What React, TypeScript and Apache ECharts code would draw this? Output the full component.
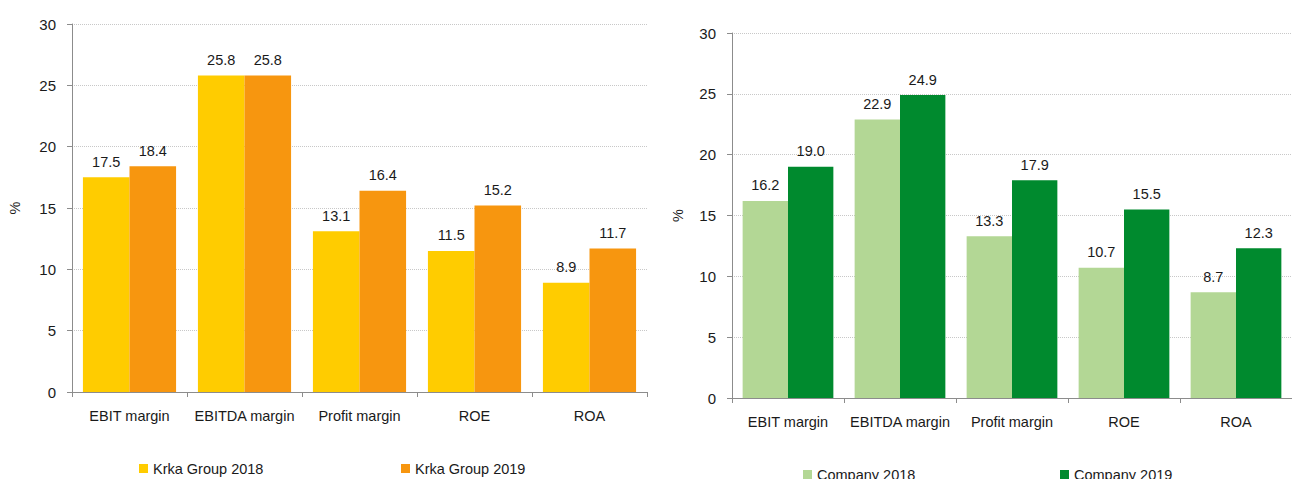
import React, { useEffect, useRef } from "react";
import * as echarts from "echarts";

const categories = ["EBIT margin", "EBITDA margin", "Profit margin", "ROE", "ROA"];
const krka2018 = [17.5, 25.8, 13.1, 11.5, 8.9];
const krka2019 = [18.4, 25.8, 16.4, 15.2, 11.7];
const company2018 = [16.2, 22.9, 13.3, 10.7, 8.7];
const company2019 = [19.0, 24.9, 17.9, 15.5, 12.3];
const yTicks = { min: 0, max: 30, interval: 5 };

const FONT = "'Liberation Sans', Arial, sans-serif";
const TXT = "#1a1a1a";
const FS = 14.5;

export default function App() {
  const ref = useRef<HTMLDivElement>(null);
  useEffect(() => {
    if (!ref.current) return;
    const chart = echarts.init(ref.current, null, { renderer: "svg" });
    const xAxisBase = (gridIndex: number) => ({
      type: "category",
      gridIndex,
      data: categories,
      axisLine: { lineStyle: { color: "#8c8c8c", width: 1 } },
      axisTick: { show: true, length: 5, lineStyle: { color: "#8c8c8c" } },
      axisLabel: { color: TXT, fontFamily: FONT, fontSize: FS, margin: 16, interval: 0 },
    });
    const yAxisBase = (gridIndex: number, nameGap: number) => ({
      type: "value",
      gridIndex,
      ...yTicks,
      name: "%",
      nameLocation: "middle",
      nameRotate: 90,
      nameGap,
      nameTextStyle: { color: TXT, fontFamily: FONT, fontSize: FS },
      axisLine: { show: true, lineStyle: { color: "#8c8c8c", width: 1 } },
      axisTick: { show: true, length: 5, lineStyle: { color: "#8c8c8c" } },
      axisLabel: { color: TXT, fontFamily: FONT, fontSize: 15, margin: 16 },
      splitLine: { show: true, lineStyle: { color: "#c8c8c8", type: "dotted", width: 1 } },
    });
    const label = {
      show: true,
      position: "top",
      distance: 8,
      color: TXT,
      fontFamily: FONT,
      fontSize: FS,
      formatter: (p: any) => Number(p.value).toFixed(1),
    };
    const bar = (name: string, data: number[], color: string, idx: number) => ({
      name,
      type: "bar",
      xAxisIndex: idx,
      yAxisIndex: idx,
      data,
      barGap: "0%",
      barCategoryGap: "19%",
      itemStyle: { color },
      label,
    });
    const legendBase = (name: string, left: number, top: number) => ({
      data: [name],
      left,
      top,
      icon: "rect",
      itemWidth: 9,
      itemHeight: 9,
      itemGap: 0,
      padding: 0,
      textStyle: { color: TXT, fontFamily: FONT, fontSize: FS },
    });
    chart.setOption({
      animation: false,
      backgroundColor: "#ffffff",
      grid: [
        { left: 72, top: 24, width: 575, height: 368, containLabel: false },
        { left: 732, top: 33, width: 568, height: 365, containLabel: false },
      ],
      legend: [
        legendBase("Krka Group 2018", 139, 461),
        legendBase("Krka Group 2019", 401, 461),
        legendBase("Company 2018", 803, 467),
        legendBase("Company 2019", 1060, 467),
      ],
      xAxis: [xAxisBase(0), xAxisBase(1)],
      yAxis: [yAxisBase(0, 50), yAxisBase(1, 47)],
      series: [
        bar("Krka Group 2018", krka2018, "#ffcc00", 0),
        bar("Krka Group 2019", krka2019, "#f7960f", 0),
        bar("Company 2018", company2018, "#b3d795", 1),
        bar("Company 2019", company2019, "#008a2e", 1),
      ],
    });
    return () => chart.dispose();
  }, []);
  return (
    <div
      ref={ref}
      style={{ position: "fixed", left: 0, top: 0, width: 1292, height: 479, overflow: "hidden" }}
    />
  );
}
